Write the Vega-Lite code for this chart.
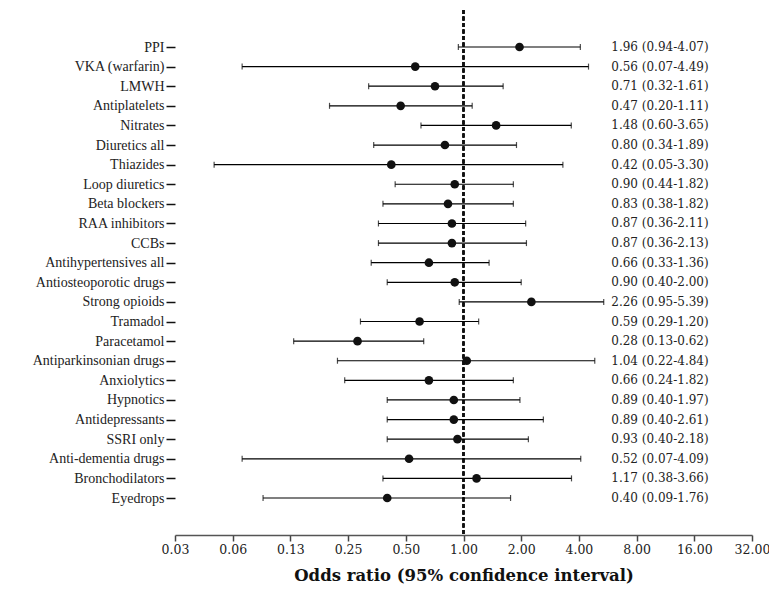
{
  "$schema": "https://vega.github.io/schema/vega-lite/v6.json",
  "width": 577,
  "height": 525,
  "autosize": {"type": "none"},
  "padding": {"left": 175, "top": 10, "right": 17, "bottom": 56},
  "background": "white",
  "config": {"view": {"stroke": null}, "font": "Liberation Serif"},
  "data": {"values": [
    {"drug": "PPI", "or": 1.96, "lo": 0.94, "hi": 4.07, "label": "1.96 (0.94-4.07)"},
    {"drug": "VKA (warfarin)", "or": 0.56, "lo": 0.07, "hi": 4.49, "label": "0.56 (0.07-4.49)"},
    {"drug": "LMWH", "or": 0.71, "lo": 0.32, "hi": 1.61, "label": "0.71 (0.32-1.61)"},
    {"drug": "Antiplatelets", "or": 0.47, "lo": 0.20, "hi": 1.11, "label": "0.47 (0.20-1.11)"},
    {"drug": "Nitrates", "or": 1.48, "lo": 0.60, "hi": 3.65, "label": "1.48 (0.60-3.65)"},
    {"drug": "Diuretics all", "or": 0.80, "lo": 0.34, "hi": 1.89, "label": "0.80 (0.34-1.89)"},
    {"drug": "Thiazides", "or": 0.42, "lo": 0.05, "hi": 3.30, "label": "0.42 (0.05-3.30)"},
    {"drug": "Loop diuretics", "or": 0.90, "lo": 0.44, "hi": 1.82, "label": "0.90 (0.44-1.82)"},
    {"drug": "Beta blockers", "or": 0.83, "lo": 0.38, "hi": 1.82, "label": "0.83 (0.38-1.82)"},
    {"drug": "RAA inhibitors", "or": 0.87, "lo": 0.36, "hi": 2.11, "label": "0.87 (0.36-2.11)"},
    {"drug": "CCBs", "or": 0.87, "lo": 0.36, "hi": 2.13, "label": "0.87 (0.36-2.13)"},
    {"drug": "Antihypertensives all", "or": 0.66, "lo": 0.33, "hi": 1.36, "label": "0.66 (0.33-1.36)"},
    {"drug": "Antiosteoporotic drugs", "or": 0.90, "lo": 0.40, "hi": 2.00, "label": "0.90 (0.40-2.00)"},
    {"drug": "Strong opioids", "or": 2.26, "lo": 0.95, "hi": 5.39, "label": "2.26 (0.95-5.39)"},
    {"drug": "Tramadol", "or": 0.59, "lo": 0.29, "hi": 1.20, "label": "0.59 (0.29-1.20)"},
    {"drug": "Paracetamol", "or": 0.28, "lo": 0.13, "hi": 0.62, "label": "0.28 (0.13-0.62)"},
    {"drug": "Antiparkinsonian drugs", "or": 1.04, "lo": 0.22, "hi": 4.84, "label": "1.04 (0.22-4.84)"},
    {"drug": "Anxiolytics", "or": 0.66, "lo": 0.24, "hi": 1.82, "label": "0.66 (0.24-1.82)"},
    {"drug": "Hypnotics", "or": 0.89, "lo": 0.40, "hi": 1.97, "label": "0.89 (0.40-1.97)"},
    {"drug": "Antidepressants", "or": 0.89, "lo": 0.40, "hi": 2.61, "label": "0.89 (0.40-2.61)"},
    {"drug": "SSRI only", "or": 0.93, "lo": 0.40, "hi": 2.18, "label": "0.93 (0.40-2.18)"},
    {"drug": "Anti-dementia drugs", "or": 0.52, "lo": 0.07, "hi": 4.09, "label": "0.52 (0.07-4.09)"},
    {"drug": "Bronchodilators", "or": 1.17, "lo": 0.38, "hi": 3.66, "label": "1.17 (0.38-3.66)"},
    {"drug": "Eyedrops", "or": 0.40, "lo": 0.09, "hi": 1.76, "label": "0.40 (0.09-1.76)"}
  ]},
  "encoding": {
    "y": {
      "field": "drug", "type": "nominal", "sort": null,
      "scale": {"type": "point", "range": [37, 488], "padding": 0},
      "axis": {"title": null, "domain": false, "ticks": true, "tickSize": 9, "tickColor": "#111", "tickWidth": 1.5,
               "labelFont": "Liberation Serif", "labelFontSize": 14, "labelColor": "#222", "labelPadding": 2}
    }
  },
  "layer": [
    {
      "mark": {"type": "rule", "color": "#111", "strokeWidth": 1.2, "strokeDash": [4, 2.5]},
      "encoding": {"x": {"datum": 1, "type": "quantitative"}, "y": {"value": 0}, "y2": {"value": 525}}
    },
    {
      "mark": {"type": "rule", "color": "#000", "strokeWidth": 1.2},
      "encoding": {
        "x": {"field": "lo", "type": "quantitative",
              "scale": {"type": "log", "base": 2, "domain": [0.03125, 32], "nice": false},
              "axis": {"title": "Odds ratio (95% confidence interval)", "values": [0.03125, 0.0625, 0.125, 0.25, 0.5, 1, 2, 4, 8, 16, 32],
                       "format": ".2f", "grid": false, "labelFlush": false, "labelOverlap": false, "labelBound": false,
                       "domainColor": "#555", "domainWidth": 1.5, "tickColor": "#444", "tickWidth": 1.5, "tickSize": 6,
                       "labelFont": "DejaVu Serif", "labelFontSize": 12.5, "labelColor": "#222", "labelPadding": 2,
                       "titleFont": "DejaVu Serif", "titleFontSize": 16.5, "titleFontWeight": "bold", "titleColor": "#111", "titlePadding": 12}},
        "x2": {"field": "hi"}
      }
    },
    {
      "mark": {"type": "tick", "orient": "vertical", "color": "#000", "size": 6, "thickness": 1.2},
      "encoding": {"x": {"field": "lo", "type": "quantitative"}}
    },
    {
      "mark": {"type": "tick", "orient": "vertical", "color": "#000", "size": 6, "thickness": 1.2},
      "encoding": {"x": {"field": "hi", "type": "quantitative"}}
    },
    {
      "mark": {"type": "point", "filled": true, "color": "#111", "size": 75, "opacity": 1},
      "encoding": {"x": {"field": "or", "type": "quantitative"}}
    },
    {
      "mark": {"type": "text", "align": "left", "baseline": "middle", "font": "DejaVu Serif", "fontSize": 12, "color": "#222"},
      "encoding": {"x": {"datum": 5.9, "type": "quantitative"}, "text": {"field": "label"}}
    }
  ]
}
